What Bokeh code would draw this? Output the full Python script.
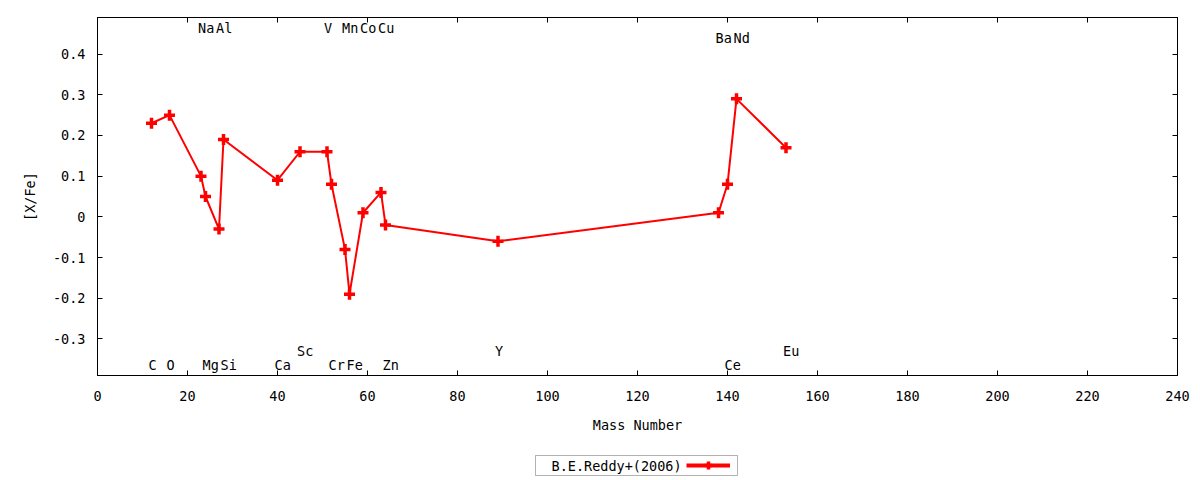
from bokeh.core.properties import value
from bokeh.embed import file_html
from bokeh.layouts import column
from bokeh.models import (BoxAnnotation, ColumnDataSource, FixedTicker, Label, Legend,
                          LegendItem, LinearAxis)
from bokeh.plotting import figure
from bokeh.resources import INLINE

# Abundances [X/Fe] against mass number, B.E.Reddy+(2006)
elements = ["C", "O", "Na", "Mg", "Al", "Si", "Ca", "Sc", "V", "Cr",
            "Mn", "Fe", "Co", "Cu", "Zn", "Y", "Ba", "Ce", "Nd", "Eu"]
mass = [12, 16, 23, 24, 27, 28, 40, 45, 51, 52,
        55, 56, 59, 63, 64, 89, 138, 140, 142, 153]
xfe = [0.23, 0.25, 0.10, 0.05, -0.03, 0.19, 0.09, 0.16, 0.16, 0.08,
       -0.08, -0.19, 0.01, 0.06, -0.02, -0.06, 0.01, 0.08, 0.29, 0.17]
# height at which each element name is written
label_y = [-0.365, -0.365, 0.465, -0.365, 0.465, -0.365, -0.365, -0.33, 0.465, -0.365,
           0.465, -0.365, 0.465, 0.465, -0.365, -0.33, 0.44, -0.365, 0.44, -0.33]

x_ticks = [0, 20, 40, 60, 80, 100, 120, 140, 160, 180, 200, 220, 240]
y_ticks = [-0.3, -0.2, -0.1, 0, 0.1, 0.2, 0.3, 0.4]
y_tick_labels = ["-0.3", "-0.2", "-0.1", "0", "0.1", "0.2", "0.3", "0.4"]
series_name = "B.E.Reddy+(2006)"

FONT = "DejaVu Sans Mono"
FSIZE = "13.5px"
RED = "#ff0000"

src = ColumnDataSource(dict(mass=mass, xfe=xfe, elements=elements, label_y=label_y))

p = figure(
    frame_width=1080, frame_height=358,
    min_border_left=97, min_border_right=23, min_border_top=17, min_border_bottom=72,
    x_range=(0, 240), y_range=(-0.39, 0.49),
    output_backend="svg", toolbar_location=None,
    x_axis_label="Mass Number", y_axis_label="[X/Fe]",
)
p.grid.visible = False
p.outline_line_color = "black"
p.outline_line_width = 1

p.line("mass", "xfe", source=src, line_color=RED, line_width=2)
p.scatter("mass", "xfe", source=src, marker="cross", size=11,
          line_color=RED, line_width=3.5)

p.text("mass", "label_y", text="elements", source=src,
       text_font=value(FONT), text_font_size=FSIZE, text_color="black",
       text_align="left", text_baseline="middle", x_offset=-3)

# main axes
p.xaxis.ticker = FixedTicker(ticks=x_ticks)
p.yaxis.ticker = FixedTicker(ticks=y_ticks)
p.yaxis.major_label_overrides = dict(zip(y_ticks, y_tick_labels))
for ax in (p.xaxis[0], p.yaxis[0]):
    ax.major_tick_in = 5
    ax.major_tick_out = 0
    ax.minor_tick_line_color = None
    ax.axis_line_color = "black"
    ax.major_tick_line_color = "black"
    ax.major_label_text_font = FONT
    ax.major_label_text_font_size = FSIZE
    ax.major_label_text_color = "black"
    ax.axis_label_text_font = FONT
    ax.axis_label_text_font_size = FSIZE
    ax.axis_label_text_font_style = "normal"
    ax.axis_label_text_color = "black"
p.xaxis.major_label_standoff = 15
p.xaxis.axis_label_standoff = 13
p.yaxis.major_label_standoff = 12
p.yaxis.axis_label_standoff = 12

# mirrored ticks on top and right
for ticks, side in ((x_ticks, "above"), (y_ticks, "right")):
    mirror = LinearAxis(ticker=FixedTicker(ticks=ticks), major_tick_in=5, major_tick_out=0,
                        minor_tick_line_color=None, major_label_text_font_size="0px",
                        major_label_standoff=0, axis_line_color="black")
    p.add_layout(mirror, side)

# key strip under the chart, gnuplot style: name first, then the sample
k = figure(frame_width=1080, frame_height=33, min_border=0,
           min_border_left=97, min_border_right=23,
           x_range=(0, 1), y_range=(0, 1),
           x_axis_location=None, y_axis_location=None,
           output_backend="svg", toolbar_location=None)
k.grid.visible = False
k.outline_line_color = None
# same data, all of it outside this strip's ranges: only the key sample is seen
key_line = k.line("mass", "xfe", source=src, line_color=RED, line_width=4)
key_pts = k.scatter("mass", "xfe", source=src, marker="cross", size=11,
                    line_color=RED, line_width=3.5)

k.add_layout(BoxAnnotation(left=438, right=640, bottom=5, top=25,
                           left_units="screen", right_units="screen",
                           bottom_units="screen", top_units="screen",
                           fill_color=None, line_color="black", line_width=1))
k.add_layout(Label(x=454, y=15, x_units="screen", y_units="screen", text=series_name,
                   text_font=FONT, text_font_size=FSIZE, text_color="black",
                   text_align="left", text_baseline="middle"))
legend = Legend(
    items=[LegendItem(label=" ", renderers=[key_line, key_pts])],
    location=(589, 5), orientation="horizontal",
    label_text_font=FONT, label_text_font_size=FSIZE,
    glyph_width=44, glyph_height=20, label_height=20, label_width=0, label_standoff=0,
    padding=0, spacing=0, margin=0,
    border_line_color=None, background_fill_alpha=0,
)
k.add_layout(legend, "center")

open("out.html", "w").write(file_html(column(p, k, spacing=0), INLINE))
